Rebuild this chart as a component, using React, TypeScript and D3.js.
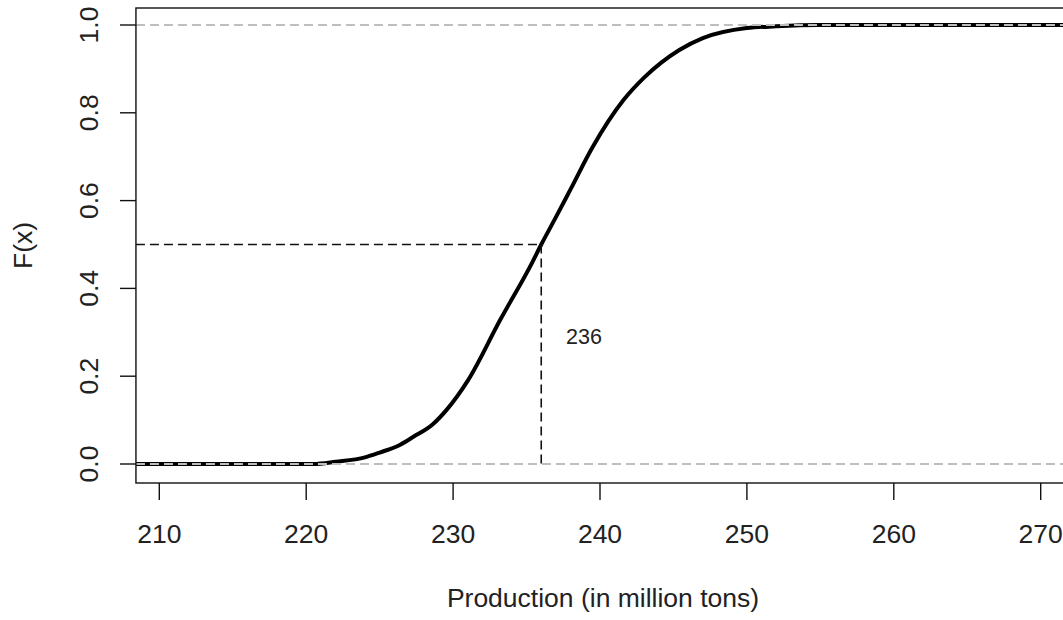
import React from 'react';
import * as d3 from 'd3';

// values
const production = [208.4, 220.5, 222, 224, 225, 226.4, 227.3, 228.6, 229.6, 231, 233.2, 235.4, 236, 236.9, 238, 239.5, 241.6, 243, 245.4, 247, 250, 252, 254.8, 271.7];
const cdf = [0, 0, 0.005, 0.015, 0.026, 0.044, 0.062, 0.09, 0.125, 0.19, 0.328, 0.46, 0.5, 0.556, 0.626, 0.722, 0.829, 0.88, 0.943, 0.97, 0.993, 0.997, 1, 1];
const xTicks = [210, 220, 230, 240, 250, 260, 270];
const yTicks = [0, 0.2, 0.4, 0.6, 0.8, 1.0];
const median = 236;
const medianProb = 0.5;
const refLines = [0, 1];

const W = 1063;
const H = 620;
const FONT = '"Liberation Sans", Arial, sans-serif';

const App = () => {
  // R-style region, x extended 4% past the ticks
  const x = d3.scaleLinear().domain([210, 270]).range([159.3, 1040.7]);
  const y = d3.scaleLinear().domain([0, 1]).range([464, 25]);

  const left = x(208.41);
  const right = W + 5;
  const top = 8;
  const bottom = 483;

  const pts = production.map((p, i) => ({ p, f: cdf[i] }));
  const line = d3
    .line<{ p: number; f: number }>()
    .x(d => x(d.p))
    .y(d => y(d.f))
    .curve(d3.curveMonotoneX);

  return (
    <svg
      width={W}
      height={H}
      style={{ position: 'absolute', left: 0, top: 0, background: '#fff' }}
      fontFamily={FONT}
    >
      <defs>
        <clipPath id="plot">
          <rect x={left} y={top} width={right - left} height={bottom - top} />
        </clipPath>
      </defs>

      <g clipPath="url(#plot)">
        <path d={line(pts) || ''} fill="none" stroke="#000" strokeWidth={4} strokeLinejoin="round" />
        {refLines.map(v => (
          <line key={v} x1={left} x2={right} y1={y(v)} y2={y(v)} stroke="#bebebe" strokeWidth={1.8} strokeDasharray="9,5" />
        ))}
        <line x1={left} x2={x(median)} y1={y(medianProb)} y2={y(medianProb)} stroke="#111" strokeWidth={1.6} strokeDasharray="9,5" />
        <line x1={x(median)} x2={x(median)} y1={y(medianProb)} y2={y(0)} stroke="#111" strokeWidth={1.6} strokeDasharray="9,5" />
      </g>

      <text x={566} y={344} fontSize={21.5} fill="#222">{median}</text>

      {/* box */}
      <rect x={left} y={top} width={right - left} height={bottom - top} fill="none" stroke="#111" strokeWidth={1.4} />

      {/* x axis */}
      {xTicks.map(t => (
        <g key={t}>
          <line x1={x(t)} x2={x(t)} y1={bottom} y2={500} stroke="#111" strokeWidth={1.4} />
          <text x={x(t)} y={543} textAnchor="middle" fontSize={26.5} fill="#222">{t}</text>
        </g>
      ))}

      {/* y axis */}
      {yTicks.map(t => (
        <g key={t}>
          <line x1={120} x2={left} y1={y(t)} y2={y(t)} stroke="#111" strokeWidth={1.4} />
          <text transform={`translate(98,${y(t)}) rotate(-90)`} textAnchor="middle" fontSize={26.5} fill="#222">
            {t.toFixed(1)}
          </text>
        </g>
      ))}

      <text x={603} y={607} textAnchor="middle" fontSize={26.5} fill="#222">Production (in million tons)</text>
      <text transform={`translate(32,${(top + bottom) / 2}) rotate(-90)`} textAnchor="middle" fontSize={26.5} fill="#222">F(x)</text>
    </svg>
  );
};

export default App;
